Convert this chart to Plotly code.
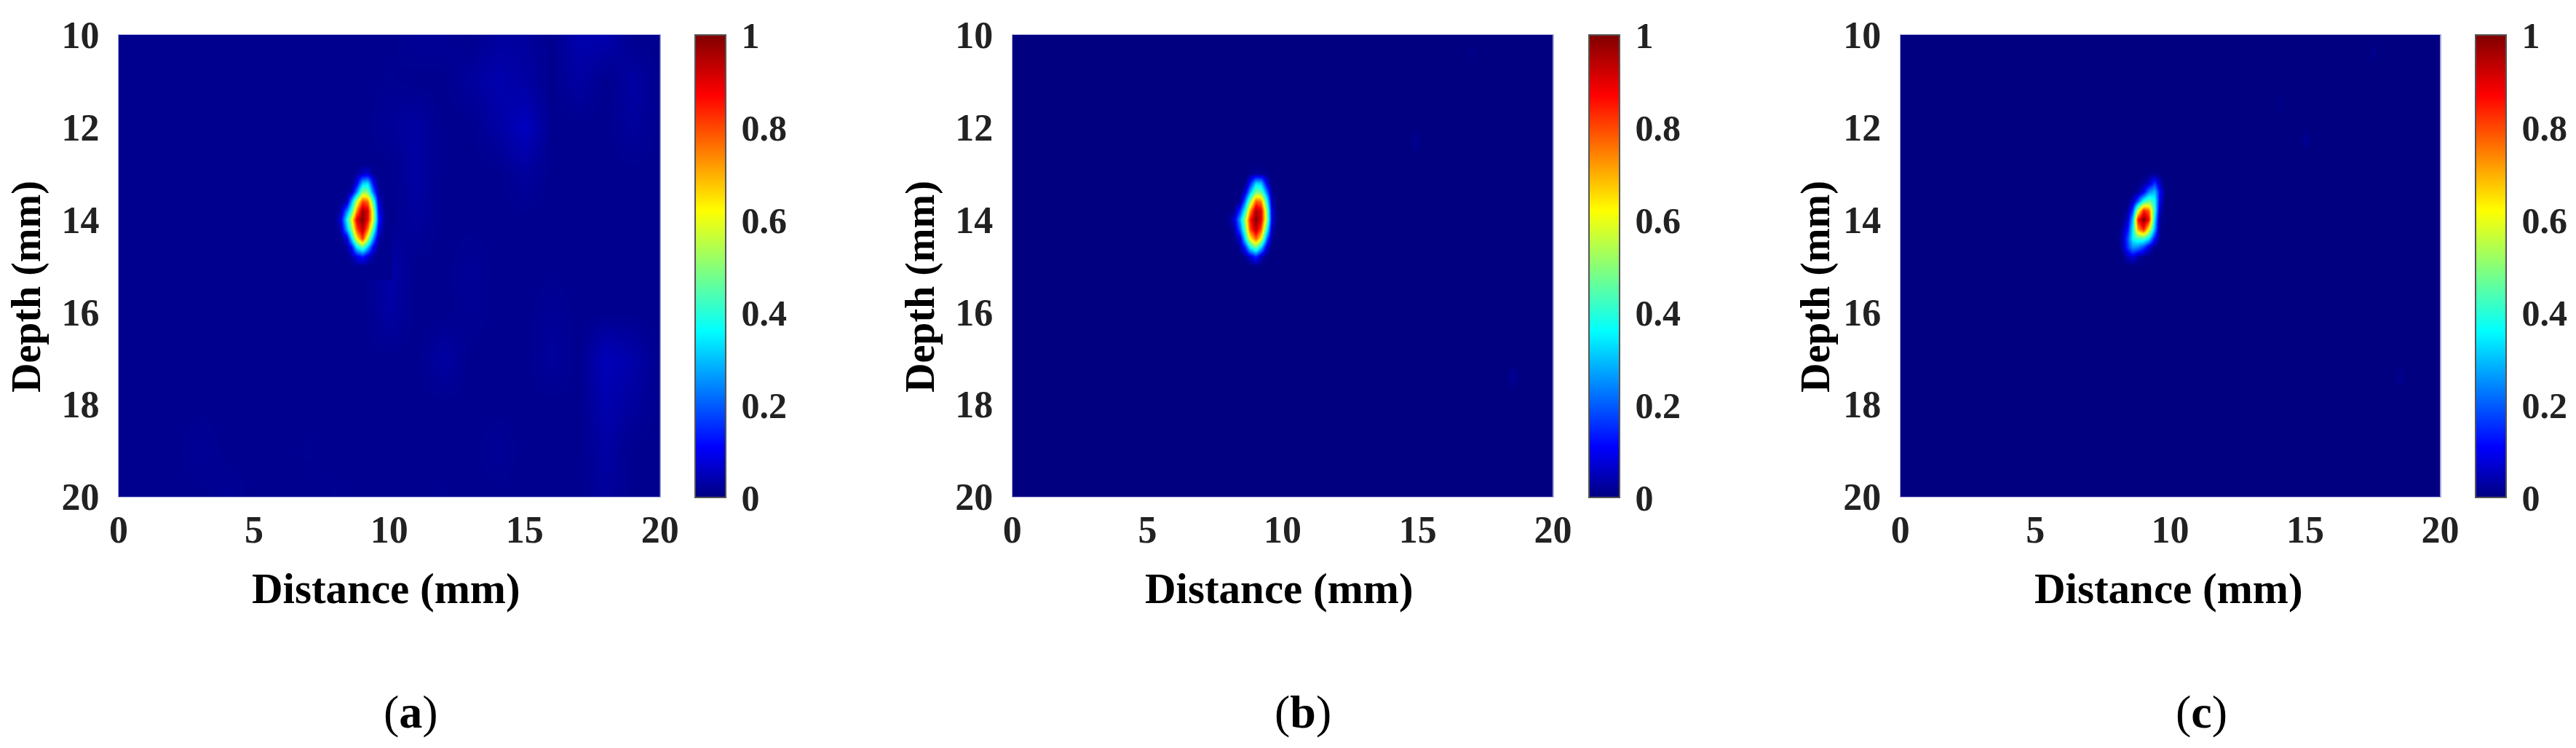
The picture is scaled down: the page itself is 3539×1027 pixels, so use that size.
import plotly.graph_objects as go

W, H = 3539, 1027
FONT = "Liberation Serif"

# ---------- data ----------
x_ticks = [0, 5, 10, 15, 20]
y_ticks = [10, 12, 14, 16, 18, 20]
cb_ticks = [0, 0.2, 0.4, 0.6, 0.8, 1]
cb_labels = ["0", "0.2", "0.4", "0.6", "0.8", "1"]

bg_x_a = list(range(0, 21))
bg_y_a = list(range(10, 21))
bg_z_a = [
 [.012,.012,.012,.012,.012,.012,.012,.012,.012,.012,.012,.020,.020,.012,.025,.025,.012,.040,.040,.012,.012],
 [.012,.012,.012,.012,.012,.012,.012,.012,.012,.012,.015,.012,.012,.025,.040,.030,.012,.030,.012,.030,.012],
 [.012,.012,.012,.012,.012,.012,.012,.012,.012,.012,.020,.030,.012,.012,.030,.055,.012,.012,.012,.025,.012],
 [.012,.012,.012,.012,.012,.012,.012,.012,.012,.012,.012,.030,.012,.012,.012,.025,.012,.012,.012,.012,.012],
 [.012,.012,.012,.012,.012,.012,.012,.012,.012,.012,.012,.025,.012,.012,.012,.012,.012,.012,.012,.012,.012],
 [.012,.012,.012,.012,.012,.012,.012,.012,.012,.012,.035,.012,.012,.020,.012,.012,.012,.012,.012,.012,.012],
 [.012,.012,.012,.012,.012,.012,.012,.012,.012,.012,.030,.012,.012,.018,.012,.012,.020,.012,.012,.012,.012],
 [.012,.012,.012,.012,.012,.012,.012,.012,.012,.012,.012,.012,.030,.012,.012,.012,.025,.012,.050,.035,.012],
 [.012,.012,.012,.012,.012,.012,.012,.012,.012,.012,.012,.012,.012,.012,.012,.012,.012,.012,.040,.025,.012],
 [.012,.012,.012,.020,.012,.012,.012,.015,.012,.012,.012,.012,.012,.012,.020,.012,.012,.012,.030,.012,.012],
 [.012,.012,.012,.012,.020,.012,.012,.012,.015,.012,.012,.012,.015,.012,.012,.012,.012,.012,.025,.012,.012],
]
bg_x_flat = [0, 20]
bg_y_flat = [10, 20]
bg_z_flat = [[0, 0], [0, 0]]

spot_x = [8.0, 8.2, 8.4, 8.6, 8.8, 9.0, 9.2, 9.4, 9.6, 9.8, 10.0]
spot_y = [12.8, 13.0, 13.2, 13.4, 13.6, 13.8, 14.0, 14.2, 14.4, 14.6, 14.8, 15.0, 15.2]

spot_a = [
 [.012,.012,.012,.012,.012,.012,.012,.012,.012,.012,.012],
 [.012,.012,.012,.012,.020,.060,.070,.020,.012,.012,.012],
 [.012,.012,.012,.012,.090,.300,.330,.100,.012,.012,.012],
 [.012,.012,.012,.040,.240,.500,.480,.200,.025,.012,.012],
 [.012,.015,.035,.280,.560,.800,.760,.420,.070,.012,.012],
 [.012,.035,.220,.420,.740,.970,.900,.540,.110,.015,.012],
 [.015,.080,.350,.600,.900,1.00,.880,.560,.140,.020,.012],
 [.012,.040,.270,.500,.800,.950,.760,.420,.090,.015,.012],
 [.012,.015,.060,.330,.620,.820,.560,.240,.035,.012,.012],
 [.012,.012,.020,.120,.340,.450,.300,.090,.015,.012,.012],
 [.012,.012,.012,.030,.090,.130,.070,.020,.012,.012,.012],
 [.012,.012,.012,.012,.012,.015,.012,.012,.012,.012,.012],
 [.012,.012,.012,.012,.012,.012,.012,.012,.012,.012,.012],
]
spot_b = [
 [0,0,0,0,0,0,0,0,0,0,0],
 [0,0,0,0,.01,.02,.02,.005,0,0,0],
 [0,0,0,0,.13,.32,.30,.08,0,0,0],
 [0,0,0,.06,.28,.48,.46,.22,.01,0,0],
 [0,0,.01,.22,.50,.78,.74,.38,.04,0,0],
 [0,.01,.16,.38,.72,.96,.90,.50,.07,0,0],
 [.01,.07,.27,.52,.85,1.0,.90,.52,.08,0,0],
 [0,.03,.20,.46,.80,.95,.80,.40,.04,0,0],
 [0,.005,.07,.33,.62,.78,.62,.22,.01,0,0],
 [0,0,.02,.14,.36,.48,.32,.07,0,0,0],
 [0,0,0,.01,.07,.14,.05,0,0,0,0],
 [0,0,0,0,0,.005,0,0,0,0,0],
 [0,0,0,0,0,0,0,0,0,0,0],
]
spot_c = [
 [0,0,0,0,0,0,0,0,0,0,0],
 [0,0,0,0,0,0,.005,.01,.005,0,0],
 [0,0,0,0,0,.02,.06,.16,.05,0,0],
 [0,0,0,0,.02,.10,.24,.30,.12,.005,0],
 [0,0,0,.05,.20,.40,.47,.38,.10,0,0],
 [0,0,.02,.18,.58,.85,.78,.40,.05,0,0],
 [0,.005,.06,.30,.85,1.0,.87,.34,.02,0,0],
 [0,.02,.12,.35,.72,.85,.62,.28,.01,0,0],
 [0,.03,.18,.36,.42,.42,.34,.12,.01,0,0],
 [0,.02,.16,.26,.24,.17,.07,.01,0,0,0],
 [0,0,.05,.08,.03,.01,0,0,0,0,0],
 [0,0,0,0,0,0,0,0,0,0,0],
 [0,0,0,0,0,0,0,0,0,0,0],
]
# faint patches: distance, depth, level
faint_b = [(14.9, 12.3, .022), (18.5, 17.4, .025), (17.0, 10.4, .01)]
faint_c = [(15.0, 12.25, .022), (17.5, 10.4, .015), (14.1, 11.5, .01), (18.5, 17.4, .02)]

jet = [[0, "rgb(0,0,128)"], [0.11, "rgb(0,0,255)"], [0.36, "rgb(0,255,255)"],
       [0.62, "rgb(255,255,0)"], [0.87, "rgb(255,0,0)"], [1, "rgb(128,0,0)"]]

# ---------- layout in pixels ----------
panels = [
    dict(l=163.0, r=906.7, cb=955.3, cap="a", bgx=bg_x_a, bgy=bg_y_a, bgz=bg_z_a, spot=spot_a, faint=[], tx=530, ty=36, cx=564),
    dict(l=1390.7, r=2133.5, cb=2183.0, cap="b", bgx=bg_x_flat, bgy=bg_y_flat, bgz=bg_z_flat, spot=spot_b, faint=faint_b, tx=1757, ty=1264, cx=1790),
    dict(l=2610.7, r=3352.5, cb=3400.7, cap="c", bgx=bg_x_flat, bgy=bg_y_flat, bgz=bg_z_flat, spot=spot_c, faint=faint_c, tx=2979, ty=2494, cx=3024),
]
TOP, BOT, CB_W = 48, 682, 41.5

fig = go.Figure()
annotations = []
shapes = []
common = dict(colorscale=jet, zmin=0, zmax=1, zsmooth="best", hoverinfo="skip")

for i, p in enumerate(panels):
    s = "" if i == 0 else str(i + 1)
    xa, ya = "x" + s, "y" + s
    fig.add_trace(go.Heatmap(
        x=p["bgx"], y=p["bgy"], z=p["bgz"], xaxis=xa, yaxis=ya, showscale=True, **common,
        colorbar=dict(
            x=p["cb"] / W, xanchor="left", xpad=0, y=1 - TOP / H, yanchor="top", ypad=0,
            lenmode="pixels", len=BOT - TOP + 1, thicknessmode="pixels", thickness=CB_W,
            outlinecolor="#555555", outlinewidth=2, ticks="outside", ticklen=11,
            tickcolor="rgba(0,0,0,0)", tickwidth=1, tickmode="array", tickvals=cb_ticks, ticktext=cb_labels,
            tickfont=dict(family=FONT, size=50, color="#222222", weight="bold"),
        )))
    for fx, fy, fv in p["faint"]:
        fig.add_trace(go.Heatmap(
            x=[fx - .2, fx, fx + .2], y=[fy - .3, fy, fy + .3],
            z=[[0, 0, 0], [0, fv, 0], [0, 0, 0]], xaxis=xa, yaxis=ya, showscale=False, **common))
    fig.add_trace(go.Heatmap(x=spot_x, y=spot_y, z=p["spot"], xaxis=xa, yaxis=ya, showscale=False, **common))

    fig.update_layout({
        "xaxis" + s: dict(domain=[p["l"] / W, p["r"] / W], range=[0, 20], anchor=ya, tickmode="array",
                          tickvals=x_ticks, ticks="", showgrid=False, zeroline=False, ticklabelstandoff=0,
                          showline=True, linecolor="#a9a9dc", linewidth=1, mirror=True,
                          tickfont=dict(family=FONT, size=52, color="#222222", weight="bold")),
        "yaxis" + s: dict(domain=[1 - BOT / H, 1 - TOP / H], range=[20, 10], anchor=xa, tickmode="array",
                          tickvals=y_ticks, ticks="", showgrid=False, zeroline=False, ticklabelstandoff=15,
                          showline=True, linecolor="#a9a9dc", linewidth=1, mirror=True,
                          tickfont=dict(family=FONT, size=52, color="#222222", weight="bold")),
    })
    annotations += [
        dict(text="<b>Distance (mm)</b>", xref="paper", yref="paper", x=p["tx"] / W, y=1 - 808 / H,
             showarrow=False, xanchor="center", yanchor="middle", font=dict(family=FONT, size=59, color="#000000")),
        dict(text="<b>Depth (mm)</b>", xref="paper", yref="paper", x=p["ty"] / W, y=1 - 394 / H, textangle=-90,
             showarrow=False, xanchor="center", yanchor="middle", font=dict(family=FONT, size=56, color="#000000")),
        dict(text="(<b>%s</b>)" % p["cap"], xref="paper", yref="paper", x=p["cx"] / W, y=1 - 977 / H,
             showarrow=False, xanchor="center", yanchor="middle", font=dict(family=FONT, size=64, color="#000000")),
    ]
    for v in cb_ticks[1:-1]:
        yp = 1 - (BOT + 1 - (BOT + 1 - TOP) * v) / H
        shapes.append(dict(type="line", xref="paper", yref="paper", x0=(p["cb"] + CB_W - 6) / W, x1=(p["cb"] + CB_W) / W,
                           y0=yp, y1=yp, line=dict(color="#333333", width=1.5)))

fig.update_layout(width=W, height=H, margin=dict(l=0, r=0, t=0, b=0, autoexpand=False), paper_bgcolor="white",
                  plot_bgcolor="white", showlegend=False, annotations=annotations, shapes=shapes)

fig.write_html("out.html", config=dict(displayModeBar=False),
               post_script="document.body.style.margin='0';document.body.style.overflow='hidden';")
